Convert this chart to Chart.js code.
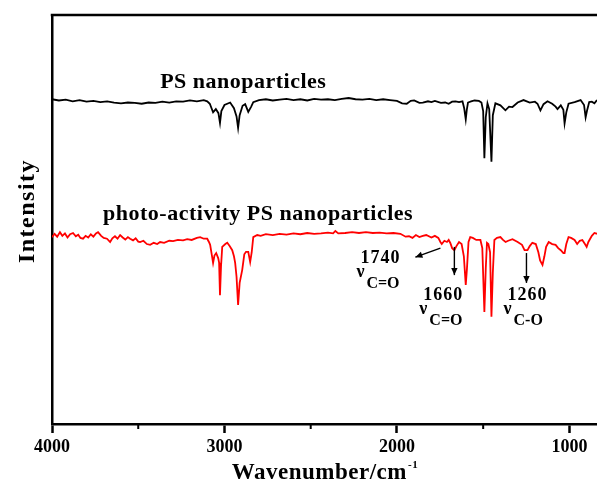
<!DOCTYPE html>
<html><head><meta charset="utf-8">
<script src="https://cdn.jsdelivr.net/npm/chart.js@4.4.1/dist/chart.umd.min.js"></script>
<style>html,body{margin:0;padding:0;background:#fff;}#wrap{width:597px;height:485px;}</style>
</head><body><div id="wrap"><canvas id="c" width="597" height="485"></canvas></div>
<script>
const seriesNames = ['PS nanoparticles', 'photo-activity PS nanoparticles'];
const majorTicks = [4000, 3000, 2000, 1000];
const minorTicks = [3500, 2500, 1500];
const xTitle = 'Wavenumber/cm';
const xTitleSup = '-1';
const yTitle = 'Intensity';
const peakNumbers = ['1740', '1660', '1260'];
const peakBonds = ['C=O', 'C=O', 'C-O'];

const blackWavenumber = [4000,3960,3920,3880,3840,3800,3760,3720,3680,3640,3600,3560,3520,3480,3440,3400,3360,3320,3280,3240,3200,3160,3120,3100,3085,3066,3050,3035,3026,3018,3000,2967,2945,2930,2921,2912,2895,2880,2862,2845,2833,2800,2760,2720,2680,2640,2600,2560,2520,2480,2440,2400,2360,2320,2280,2240,2200,2160,2120,2080,2040,2000,1970,1943,1920,1900,1870,1850,1820,1800,1780,1745,1720,1700,1680,1660,1640,1620,1610,1601,1595,1588,1570,1550,1525,1510,1500,1493,1485,1475,1465,1452,1444,1429,1400,1371,1350,1330,1300,1266,1230,1200,1185,1168,1150,1127,1100,1080,1069,1050,1035,1028,1018,1005,970,935,915,906,898,885,870,855,840];
const blackIntensity = [79.4,79.1,79.3,78.9,79.2,78.8,79.0,78.7,78.9,78.6,78.4,78.6,78.5,78.3,78.6,78.5,78.8,78.6,78.9,78.8,79.1,78.9,79.2,78.9,78.3,76.2,77.0,76.0,73.6,76.5,78.0,78.6,77.2,75.2,72.4,75.5,77.8,78.2,76.3,77.6,78.7,79.2,79.4,79.1,79.3,79.5,79.2,79.4,79.1,79.5,79.3,79.4,79.2,79.5,79.7,79.4,79.3,79.5,79.2,79.4,79.2,79.0,78.4,78.3,79.0,79.1,78.5,78.6,78.9,78.7,79.0,78.5,78.6,78.3,78.8,78.9,78.7,78.9,77.2,74.5,76.8,78.6,78.9,79.1,79.0,78.6,76.5,65.0,75.0,78.4,77.0,64.1,75.5,78.4,77.9,76.7,77.6,77.5,78.6,79.2,78.6,78.8,78.3,76.7,78.2,78.9,78.3,77.6,77.0,77.9,76.8,73.5,76.2,78.3,78.7,79.2,78.0,75.0,76.6,78.7,78.8,78.4,79.2];

const redWavenumber = [4000,3985,3970,3954,3940,3925,3910,3895,3878,3862,3848,3835,3820,3805,3790,3775,3760,3745,3733,3715,3700,3681,3663,3650,3635,3620,3605,3590,3575,3560,3547,3530,3515,3500,3489,3470,3450,3431,3410,3390,3373,3350,3320,3298,3270,3240,3216,3190,3160,3141,3120,3100,3090,3083,3072,3066,3058,3048,3036,3031,3026,3020,3013,2995,2984,2970,2955,2945,2938,2930,2921,2912,2897,2885,2875,2862,2851,2842,2833,2810,2790,2760,2720,2680,2640,2600,2560,2520,2480,2440,2400,2370,2357,2340,2300,2260,2220,2180,2140,2100,2060,2020,1980,1950,1930,1910,1890,1870,1850,1830,1800,1780,1760,1748,1740,1725,1710,1700,1690,1680,1667,1655,1640,1625,1612,1601,1594,1585,1575,1560,1540,1516,1505,1493,1485,1478,1470,1460,1452,1444,1435,1420,1400,1385,1370,1355,1330,1300,1275,1260,1243,1230,1215,1195,1180,1170,1156,1145,1135,1120,1100,1080,1065,1050,1035,1028,1018,1005,990,970,955,940,925,910,900,890,870,855,840];
const redIntensity = [45.7,46.5,45.8,46.9,46.0,46.6,45.6,46.4,46.7,45.9,46.3,45.5,45.3,46.0,45.6,46.4,45.8,46.6,46.9,46.0,45.5,45.3,44.5,45.4,45.9,45.3,46.2,45.6,45.1,45.7,45.3,44.9,45.4,44.6,44.5,44.8,44.0,43.8,44.3,44.0,44.5,44.3,44.8,44.7,45.0,44.9,45.2,45.0,45.5,45.7,45.3,45.3,44.5,43.8,41.0,39.4,41.2,41.8,40.5,39.4,31.5,38.5,43.3,44.0,44.3,43.5,42.5,41.0,39.4,36.0,29.1,34.5,37.7,41.5,42.1,42.1,39.6,42.0,45.7,46.2,46.0,46.4,46.2,46.5,46.3,46.6,46.4,46.7,46.5,46.6,46.8,46.6,47.2,46.6,46.7,46.9,46.7,46.9,46.7,46.8,46.6,46.7,46.5,45.8,45.9,45.5,46.2,45.7,46.0,46.2,45.6,46.0,45.5,44.5,44.0,44.8,44.5,45.0,44.2,43.0,42.5,43.5,44.5,44.0,41.0,34.0,38.0,44.5,45.7,45.5,45.0,45.0,43.0,27.4,38.0,44.3,44.0,42.0,26.2,37.0,45.0,45.5,45.7,45.0,44.5,44.8,45.2,44.5,43.8,42.5,42.5,43.5,44.3,44.0,42.0,40.0,38.9,41.0,43.3,44.5,44.0,43.8,43.0,42.5,41.8,41.8,44.0,45.7,45.5,45.0,44.0,44.8,45.0,44.0,43.3,44.5,46.0,46.7,46.5];

const SERIF = '"Liberation Serif", "Times New Roman", serif';

function arrow(ctx, x1, y1, x2, y2) {
  ctx.beginPath(); ctx.moveTo(x1, y1); ctx.lineTo(x2, y2); ctx.stroke();
  const a = Math.atan2(y2 - y1, x2 - x1), L = 7, W = 3.2;
  ctx.beginPath();
  ctx.moveTo(x2, y2);
  ctx.lineTo(x2 - L * Math.cos(a) + W * Math.sin(a), y2 - L * Math.sin(a) - W * Math.cos(a));
  ctx.lineTo(x2 - L * Math.cos(a) - W * Math.sin(a), y2 - L * Math.sin(a) + W * Math.cos(a));
  ctx.closePath(); ctx.fill();
}

const annotPlugin = {
  id: 'annot',
  afterDraw(chart) {
    const { ctx, chartArea, scales: { x, y } } = chart;
    ctx.save();
    ctx.strokeStyle = '#000'; ctx.fillStyle = '#000';
    // top frame line
    ctx.lineWidth = 2.5;
    ctx.beginPath(); ctx.moveTo(chartArea.left - 1.25, chartArea.top); ctx.lineTo(chartArea.right, chartArea.top); ctx.stroke();
    // minor ticks
    ctx.lineWidth = 2;
    minorTicks.forEach(v => {
      const px = x.getPixelForValue(v);
      ctx.beginPath(); ctx.moveTo(px, chartArea.bottom); ctx.lineTo(px, chartArea.bottom + 5); ctx.stroke();
    });
    // x title (centred under plot area) with small superscript
    ctx.font = 'bold 23px ' + SERIF;
    ctx.letterSpacing = '0.5px';
    const tw = ctx.measureText(xTitle).width;
    ctx.font = 'bold 11px ' + SERIF;
    const sw = ctx.measureText(xTitleSup).width;
    const tx = (chartArea.left + chartArea.right) / 2 - (tw + sw) / 2;
    const ty = chart.height - 6;
    ctx.textAlign = 'left'; ctx.textBaseline = 'alphabetic';
    ctx.font = 'bold 23px ' + SERIF;
    ctx.fillText(xTitle, tx, ty);
    ctx.font = 'bold 11px ' + SERIF;
    ctx.fillText(xTitleSup, tx + tw + 1, ty - 11);
    // y title
    ctx.save();
    ctx.translate(28, 211);
    ctx.rotate(-Math.PI / 2);
    ctx.textAlign = 'center'; ctx.textBaseline = 'middle';
    ctx.font = 'bold 24px ' + SERIF;
    ctx.letterSpacing = '1.5px';
    ctx.fillText(yTitle, 0, 0);
    ctx.restore();
    // series names
    ctx.textAlign = 'left'; ctx.textBaseline = 'alphabetic';
    ctx.font = 'bold 22px ' + SERIF;
    ctx.letterSpacing = '0.5px';
    ctx.fillText(seriesNames[0], x.getPixelForValue(3373), y.getPixelForValue(82.2));
    ctx.fillText(seriesNames[1], x.getPixelForValue(3704), y.getPixelForValue(49.9));
    // peak labels
    const peakAnchors = [[2096, 39.4], [1731, 30.3], [1243, 30.3]];
    peakAnchors.forEach(([wn, v], i) => {
      const cx = x.getPixelForValue(wn), by = y.getPixelForValue(v);
      ctx.textAlign = 'center';
      ctx.font = 'bold 18px ' + SERIF;
      ctx.letterSpacing = '1px';
      ctx.fillText(peakNumbers[i], cx, by);
      ctx.textAlign = 'left';
      ctx.letterSpacing = '0px';
      const nx = cx - 24;
      ctx.font = 'bold 18px ' + SERIF;
      ctx.fillText('\u03BD', nx, by + 14);
      ctx.font = 'bold 16px ' + SERIF;
      ctx.fillText(peakBonds[i], nx + 10, by + 25);
    });
    // arrows
    ctx.lineWidth = 1.4;
    const arrows = [[1748, 43.0, 1893, 40.8], [1667, 43.3, 1667, 36.4], [1249, 41.8, 1249, 34.5]];
    arrows.forEach(([w1, v1, w2, v2]) => {
      arrow(ctx, x.getPixelForValue(w1), y.getPixelForValue(v1), x.getPixelForValue(w2), y.getPixelForValue(v2));
    });
    ctx.restore();
  }
};

const toPts = (xs, ys) => xs.map((w, i) => ({ x: w, y: ys[i] }));

new Chart(document.getElementById('c'), {
  type: 'scatter',
  data: {
    datasets: [
      { label: seriesNames[0], data: toPts(blackWavenumber, blackIntensity), showLine: true, borderColor: '#000', backgroundColor: '#000', borderWidth: 1.8, pointRadius: 0, tension: 0 },
      { label: seriesNames[1], data: toPts(redWavenumber, redIntensity), showLine: true, borderColor: '#ff0000', backgroundColor: '#ff0000', borderWidth: 1.8, pointRadius: 0, tension: 0 }
    ]
  },
  options: {
    responsive: false, animation: false, devicePixelRatio: 1,
    layout: { padding: { top: 15, right: 0, left: 0, bottom: 0 } },
    plugins: { legend: { display: false }, tooltip: { enabled: false } },
    scales: {
      x: {
        type: 'linear', reverse: true, min: 840, max: 4000,
        afterBuildTicks: s => { s.ticks = majorTicks.map(v => ({ value: v })); },
        afterFit: s => { s.height = 61; },
        ticks: { autoSkip: false, maxRotation: 0, padding: 4, color: '#000', font: { family: SERIF, size: 18, weight: 'bold' }, callback: v => String(v) },
        grid: { drawOnChartArea: false, drawTicks: true, tickLength: 9, tickWidth: 2.5, tickColor: '#000' },
        border: { display: true, color: '#000', width: 2.5 },
        title: { display: false, text: xTitle }
      },
      y: {
        type: 'linear', min: 0, max: 100,
        afterFit: s => { s.width = 52; },
        ticks: { display: false },
        grid: { display: false },
        border: { display: true, color: '#000', width: 2.5 },
        title: { display: false, text: yTitle }
      }
    }
  },
  plugins: [annotPlugin]
});
</script>
</body></html>
